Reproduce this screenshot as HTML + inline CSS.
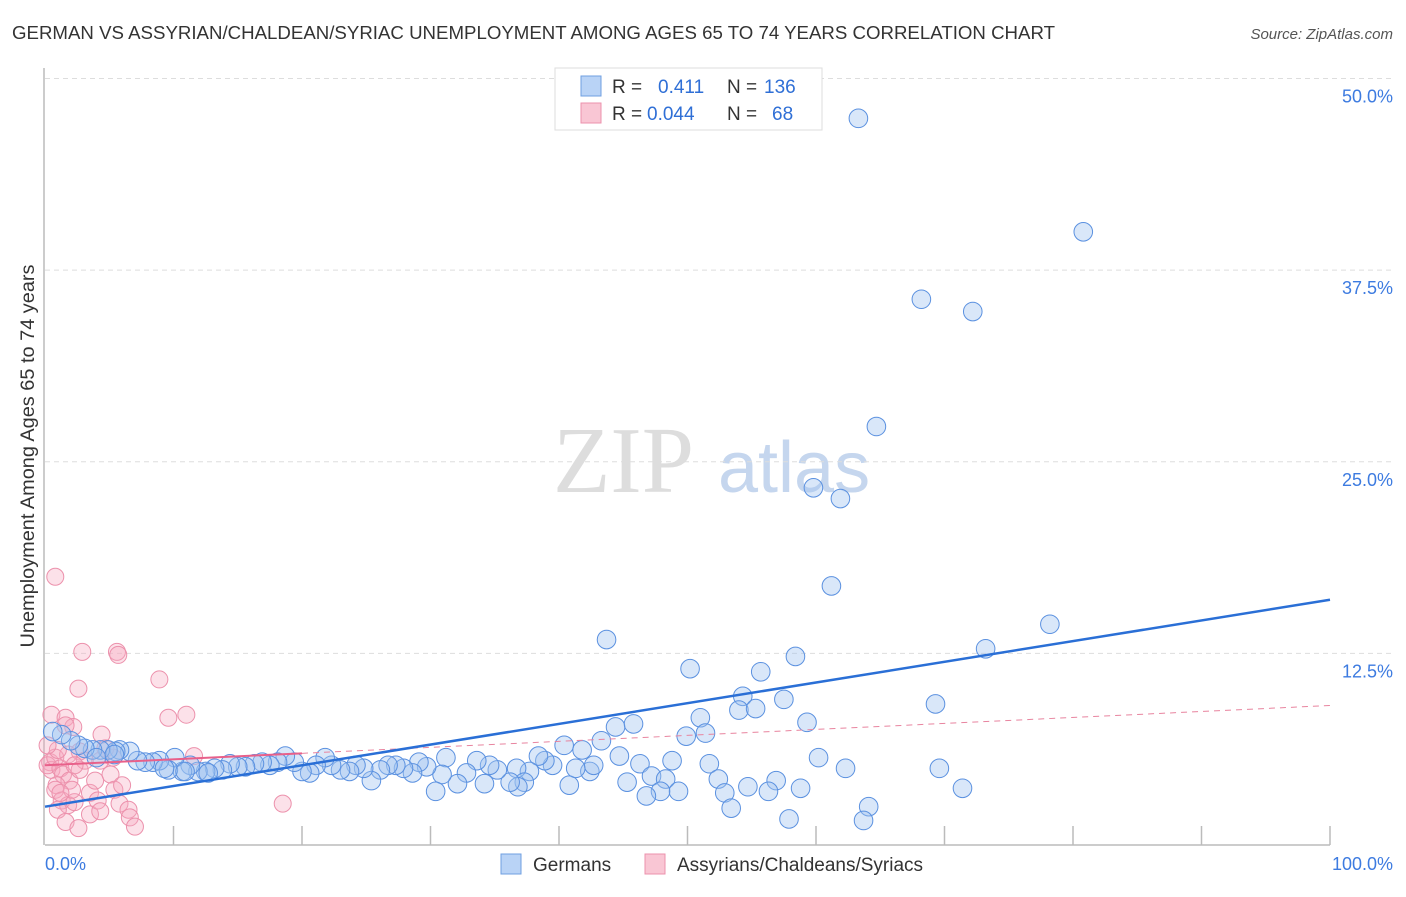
<!DOCTYPE html>
<html><head><meta charset="utf-8"><style>
body{margin:0;background:#fff;font-family:"Liberation Sans",sans-serif}
</style></head><body>
<svg id="c" width="1406" height="892" xmlns="http://www.w3.org/2000/svg">
<text x="12" y="39" font-size="18" fill="#333" textLength="1043" lengthAdjust="spacingAndGlyphs">GERMAN VS ASSYRIAN/CHALDEAN/SYRIAC UNEMPLOYMENT AMONG AGES 65 TO 74 YEARS CORRELATION CHART</text>
<text x="1393" y="39" font-size="15" fill="#555" font-style="italic" text-anchor="end">Source: ZipAtlas.com</text>
<text transform="translate(34,456) rotate(-90)" font-size="19" fill="#333" text-anchor="middle" textLength="383" lengthAdjust="spacingAndGlyphs">Unemployment Among Ages 65 to 74 years</text>
<g><text x="553" y="492" font-family="Liberation Serif,serif" font-size="94" fill="#ddd">ZIP</text><text x="718" y="492" font-size="72" fill="#c5d6ee">atlas</text></g>
<g id="grid"></g><g id="axes"></g><g id="pink"></g><g id="blue"></g><g id="trend"></g>
<g>
<rect x="555" y="68" width="267" height="62" fill="#fff" stroke="#ddd"/>
<rect x="581" y="76" width="20" height="20" fill="#b9d3f6" stroke="#6f9fe0"/>
<rect x="581" y="103" width="20" height="20" fill="#f9c6d4" stroke="#ec91ac"/>
<text x="612" y="93" font-size="19" fill="#333">R = </text><text x="658" y="93" font-size="19" fill="#2f6fd6">0.411</text>
<text x="727" y="93" font-size="19" fill="#333">N = </text><text x="764" y="93" font-size="19" fill="#2f6fd6">136</text>
<text x="612" y="120" font-size="19" fill="#333">R = </text><text x="647" y="120" font-size="19" fill="#2f6fd6">0.044</text>
<text x="727" y="120" font-size="19" fill="#333">N = </text><text x="772" y="120" font-size="19" fill="#2f6fd6">68</text>
</g>
<g>
<rect x="501" y="854" width="20" height="20" fill="#b9d3f6" stroke="#6f9fe0"/>
<text x="533" y="871" font-size="19" fill="#333">Germans</text>
<rect x="645" y="854" width="20" height="20" fill="#f9c6d4" stroke="#ec91ac"/>
<text x="677" y="871" font-size="19" fill="#333">Assyrians/Chaldeans/Syriacs</text>
</g>
</svg>
<script>
const yTicks=[12.5,25,37.5,50];
const yTickLabels=["12.5%","25.0%","37.5%","50.0%"];
const xTickLabels=["0.0%","100.0%"];
const blueX=[63.3,80.8,68.2,72.2,64.7,59.8,61.9,61.2,78.2,43.7,73.2,58.4,50.2,55.7,54.3,57.5,54.0,55.3,69.3,51.0,59.3,44.4,45.8,51.4,49.9,43.3,40.4,41.8,60.2,62.3,69.6,51.7,48.8,46.3,44.7,47.2,45.3,48.3,52.4,56.9,54.7,52.9,56.3,58.8,71.4,49.3,47.9,46.8,53.4,64.1,57.9,63.7,40.8,42.4,42.7,41.3,39.5,38.9,38.4,37.7,36.7,37.3,36.8,36.2,35.2,34.6,33.6,34.2,32.8,32.1,31.2,30.9,30.4,29.7,29.1,28.6,27.9,27.3,26.7,26.1,25.4,24.8,24.2,23.7,23.0,22.3,21.8,21.1,20.6,20.0,19.4,18.7,18.1,17.5,16.9,16.3,15.6,15.0,14.4,13.8,13.2,12.5,11.9,11.3,10.7,10.1,9.6,8.9,8.4,7.8,7.2,6.6,5.8,5.5,4.9,4.3,3.7,3.1,2.6,2.0,1.3,0.6,4.0,5.4,10.9,12.7,9.3];
const blueY=[47.4,40.0,35.6,34.8,27.3,23.3,22.6,16.9,14.4,13.4,12.8,12.3,11.5,11.3,9.7,9.5,8.8,8.9,9.2,8.3,8.0,7.7,7.9,7.3,7.1,6.8,6.5,6.2,5.7,5.0,5.0,5.3,5.5,5.3,5.8,4.5,4.1,4.3,4.3,4.2,3.8,3.4,3.5,3.7,3.7,3.5,3.5,3.2,2.4,2.5,1.7,1.6,3.9,4.8,5.2,5.0,5.2,5.5,5.8,4.8,5.0,4.1,3.8,4.1,4.9,5.2,5.5,4.0,4.7,4.0,5.7,4.6,3.5,5.1,5.4,4.7,5.0,5.2,5.2,4.9,4.2,5.0,5.2,4.8,4.9,5.2,5.7,5.2,4.7,4.8,5.4,5.8,5.4,5.2,5.4,5.3,5.1,5.1,5.3,4.9,5.0,4.8,4.8,5.2,4.8,5.7,4.9,5.5,5.4,5.4,5.5,6.1,6.2,6.1,6.2,6.2,6.2,6.3,6.5,6.8,7.2,7.4,5.7,5.9,4.8,4.7,5.0];
const pinkX=[0.8,2.9,5.6,5.7,2.6,8.9,9.6,11.0,0.5,1.6,2.2,4.4,1.6,18.5,11.6,5.3,4.7,2.7,0.4,0.5,0.2,0.8,1.2,1.4,1.9,0.9,0.8,1.3,1.8,2.3,1.0,1.6,2.6,3.5,3.5,4.1,4.3,5.1,5.4,5.8,6.0,6.5,6.6,7.0,2.7,3.1,3.9,2.1,1.2,1.8,1.0,0.2,2.3,4.3];
const pinkY=[17.5,12.6,12.6,12.4,10.2,10.8,8.3,8.5,8.5,8.3,7.7,7.2,7.8,2.7,5.8,5.7,6.3,6.1,5.4,4.9,5.2,5.7,5.0,4.6,4.2,3.9,3.6,2.9,2.6,2.8,2.3,1.5,1.1,2.0,3.4,2.9,2.2,4.6,3.6,2.7,3.9,2.3,1.8,1.2,4.9,5.5,4.2,3.6,3.4,5.9,6.2,6.5,5.2,5.5];
const trendBlue=[2.5,16.0];
const trendPink=[5.2,9.1];
const X0=45,X1=1330,Y0=845,PPU=15.33;
const sx=v=>X0+(X1-X0)*v/100, sy=v=>Y0-v*PPU;
const NS="http://www.w3.org/2000/svg";
function mk(p,t,a){const e=document.createElementNS(NS,t);for(const k in a)e.setAttribute(k,a[k]);p.appendChild(e);return e;}
const grid=document.getElementById('grid'),axes=document.getElementById('axes');
yTicks.forEach((v,i)=>{
 const l=mk(grid,'line',{x1:X0,x2:1393,y1:sy(v),y2:sy(v),stroke:'#ddd','stroke-dasharray':'5,4'});
 
 
 const t=mk(grid,'text',{x:1393,y:sy(v)+24,'font-size':18,fill:'#3d7be0','text-anchor':'end'});
 t.textContent=yTickLabels[i];
 
 
});
const xa=mk(axes,'line',{x1:X0,x2:X1,y1:Y0,y2:Y0,stroke:'#bbb','stroke-width':1.5});


const ya=mk(axes,'line',{x1:X0-1,x2:X0-1,y1:68,y2:Y0,stroke:'#bbb','stroke-width':1.5});


for(let i=1;i<=10;i++){const t=mk(axes,'line',{x1:sx(i*10),x2:sx(i*10),y1:826,y2:Y0,stroke:'#bbb','stroke-width':1.5});
 
 }
const xl0=mk(axes,'text',{x:45,y:870,'font-size':18,fill:'#3d7be0'});xl0.textContent=xTickLabels[0];


const xl1=mk(axes,'text',{x:1393,y:870,'font-size':18,fill:'#3d7be0','text-anchor':'end'});xl1.textContent=xTickLabels[1];


const pg=document.getElementById('pink'),bg=document.getElementById('blue');
pinkX.forEach((x,i)=>{const c=mk(pg,'circle',{cx:sx(x),cy:sy(pinkY[i]),r:8.5,fill:'rgba(246,170,192,0.35)',stroke:'#ec91ac','stroke-width':1});
 
 });
blueX.forEach((x,i)=>{const c=mk(bg,'circle',{cx:sx(x),cy:sy(blueY[i]),r:9.3,fill:'rgba(160,195,240,0.4)',stroke:'#5b91e0','stroke-width':1});
 
 });
const tg=document.getElementById('trend');
const pm=trendPink[0]+(trendPink[1]-trendPink[0])*0.2;
const p1=mk(tg,'line',{x1:sx(0),y1:sy(trendPink[0]),x2:sx(20),y2:sy(pm),stroke:'#e8608a','stroke-width':2});


const p2=mk(tg,'line',{x1:sx(20),y1:sy(pm),x2:sx(100),y2:sy(trendPink[1]),stroke:'#e8849f','stroke-width':1,'stroke-dasharray':'6,5'});


const b=mk(tg,'line',{x1:sx(0),y1:sy(trendBlue[0]),x2:sx(100),y2:sy(trendBlue[1]),stroke:'#2a6fd6','stroke-width':2.5});


</script>
</body></html>
